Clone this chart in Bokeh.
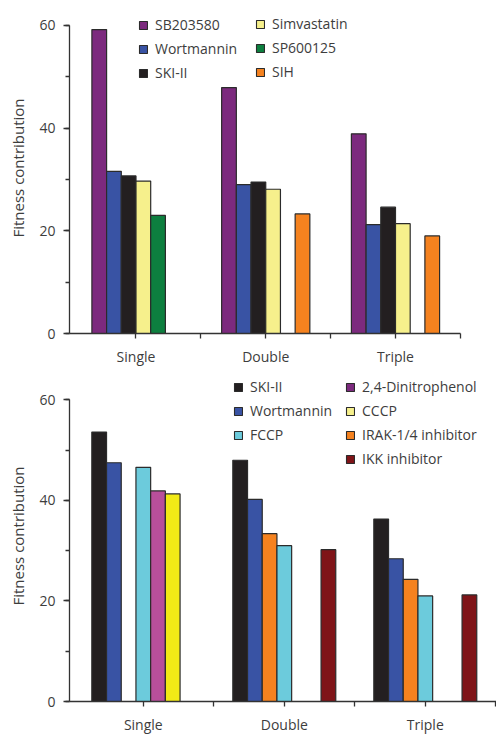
import math
from bokeh.plotting import figure
from bokeh.models import (ColumnDataSource, Legend, LegendItem, FixedTicker,
                          Range1d, SingleIntervalTicker)
from bokeh.layouts import column
from bokeh.embed import file_html
from bokeh.resources import INLINE

# ---------------- data ----------------
groups = ["Single", "Double", "Triple"]
y_label = "Fitness contribution"

# top panel
top_series = ["SB203580", "Wortmannin", "SKI-II", "Simvastatin", "SP600125", "SIH"]
top_bar_colors = ["#7c2a7e", "#3953a4", "#231f20", "#f6f08c", "#0d7f3f", "#f5821f"]
top_legend_colors = ["#7c2a7e", "#3953a4", "#231f20", "#f6f08c", "#0d7f3f", "#f5821f"]
top_sb203580 = [59.2, 47.9, 38.9]
top_wortmannin = [31.6, 29.0, 21.2]
top_ski2 = [30.7, 29.5, 24.6]
top_simvastatin = [29.7, 28.1, 21.4]
top_sp600125 = [23.0, None, None]
top_sih = [None, 23.3, 19.0]
top_values = [top_sb203580, top_wortmannin, top_ski2, top_simvastatin, top_sp600125, top_sih]
top_legend_col1 = ["SB203580", "Wortmannin", "SKI-II"]
top_legend_col2 = ["Simvastatin", "SP600125", "SIH"]

# bottom panel
bot_series = ["SKI-II", "Wortmannin", "IRAK-1/4 inhibitor", "FCCP",
              "2,4-Dinitrophenol", "CCCP", "IKK inhibitor"]
bot_bar_colors = ["#231f20", "#3953a4", "#f5821f", "#6ccbdc", "#b84f9b", "#f2ea16", "#7f1418"]
bot_legend_colors = ["#231f20", "#3953a4", "#f5821f", "#6ccbdc", "#7c2a7e", "#f6f08c", "#7f1418"]
bot_ski2 = [53.6, 48.0, 36.3]
bot_wortmannin = [47.5, 40.2, 28.4]
bot_irak = [None, 33.4, 24.3]
bot_fccp = [46.6, 31.0, 21.0]
bot_dnp = [41.9, None, None]
bot_cccp = [41.3, None, None]
bot_ikk = [None, 30.2, 21.2]
bot_values = [bot_ski2, bot_wortmannin, bot_irak, bot_fccp, bot_dnp, bot_cccp, bot_ikk]
bot_legend_col1 = ["SKI-II", "Wortmannin", "FCCP"]
bot_legend_col2 = ["2,4-Dinitrophenol", "CCCP", "IRAK-1/4 inhibitor", "IKK inhibitor"]

# ---------------- style ----------------
FONT = "Open Sans"
TXT = "#3d3d3d"
AX = "#333333"
EDGE = "#2b2b2b"


def make_panel(series, values, bar_colors, legend_colors, leg1, leg2,
               x_start, x_end, bar_w, y_end, height, border_bottom,
               end_tick, leg1_xy, leg2_xy):
    p = figure(width=496, height=height, output_backend="svg", toolbar_location=None,
               x_range=Range1d(x_start, x_end), y_range=Range1d(0, y_end),
               min_border_left=69, min_border_right=0, min_border_top=2,
               min_border_bottom=border_bottom)
    p.outline_line_color = None
    p.xgrid.visible = False
    p.ygrid.visible = False
    p.background_fill_color = "white"
    p.border_fill_color = "white"

    n = len(series)
    for j, (name, vals, col) in enumerate(zip(series, values, bar_colors)):
        xs, tops = [], []
        for g, v in enumerate(vals):
            if v is not None:
                xs.append(g + (j - (n - 1) / 2) * bar_w)
                tops.append(v)
        src = ColumnDataSource(dict(x=xs, top=tops))
        p.vbar(x="x", top="top", bottom=0, width=bar_w, source=src,
               fill_color=col, line_color=EDGE, line_width=1.2)

    # legends (swatch colours as printed in the legend; proxy glyphs never drawn)
    def legend_items(names):
        items = []
        for nm in names:
            k = series.index(nm)
            r = p.vbar(x=[math.nan], top=[math.nan], bottom=0, width=bar_w,
                       fill_color=legend_colors[k], line_color=EDGE, line_width=1.1)
            items.append(LegendItem(label=nm, renderers=[r]))
        return items

    for names, xy in ((leg1, leg1_xy), (leg2, leg2_xy)):
        lg = Legend(items=legend_items(names), location=xy, orientation="vertical",
                    glyph_width=10, glyph_height=10, label_height=10,
                    label_standoff=7, spacing=5, padding=0, margin=0,
                    border_line_color=None, background_fill_alpha=0,
                    label_text_font=FONT, label_text_font_size="14px",
                    label_text_color=TXT)
        p.add_layout(lg, "center")

    # y axis
    ya = p.yaxis[0]
    ya.ticker = SingleIntervalTicker(interval=20, num_minor_ticks=2)
    ya.bounds = (0, 60)
    ya.axis_label = y_label
    ya.axis_label_text_font = FONT
    ya.axis_label_text_font_size = "15px"
    ya.axis_label_text_font_style = "normal"
    ya.axis_label_text_color = TXT
    ya.axis_label_standoff = 8
    ya.major_label_text_font = FONT
    ya.major_label_text_font_size = "14px"
    ya.major_label_text_color = TXT
    ya.major_label_standoff = 8
    ya.axis_line_color = AX
    ya.axis_line_width = 1.3
    ya.major_tick_line_color = AX
    ya.minor_tick_line_color = AX
    ya.major_tick_line_width = 1.3
    ya.minor_tick_line_width = 1.3
    ya.major_tick_in = 0
    ya.major_tick_out = 6
    ya.minor_tick_in = 0
    ya.minor_tick_out = 4

    # x axis
    xa = p.xaxis[0]
    bounds_end = (len(groups) - 0.5) if end_tick else x_end
    minor = [g + 0.5 for g in range(len(groups)) if g + 0.5 <= bounds_end + 1e-9]
    xa.ticker = FixedTicker(ticks=list(range(len(groups))), minor_ticks=minor)
    xa.major_label_overrides = {i: g for i, g in enumerate(groups)}
    xa.bounds = (x_start, bounds_end)
    xa.major_label_text_font = FONT
    xa.major_label_text_font_size = "14px"
    xa.major_label_text_color = TXT
    xa.major_label_standoff = 8
    xa.axis_line_color = AX
    xa.axis_line_width = 1.3
    xa.major_tick_line_color = AX
    xa.minor_tick_line_color = AX
    xa.major_tick_line_width = 1.3
    xa.minor_tick_line_width = 1.3
    xa.major_tick_in = 0
    xa.major_tick_out = 5
    xa.minor_tick_in = 0
    xa.minor_tick_out = 5
    return p


p_top = make_panel(top_series, top_values, top_bar_colors, top_legend_colors,
                   top_legend_col1, top_legend_col2,
                   x_start=-0.5125, x_end=2.7785, bar_w=0.1133, y_end=64.48,
                   height=368, border_bottom=35, end_tick=True,
                   leg1_xy=(69, 251), leg2_xy=(186, 252))

p_bot = make_panel(bot_series, bot_values, bot_bar_colors, bot_legend_colors,
                   bot_legend_col1, bot_legend_col2,
                   x_start=-0.5234, x_end=2.505, bar_w=0.1043, y_end=65.86,
                   height=368, border_bottom=29, end_tick=False,
                   leg1_xy=(164, 257), leg2_xy=(276, 233))

layout = column(p_top, p_bot, spacing=0)
open("out.html", "w").write(file_html(layout, INLINE))
